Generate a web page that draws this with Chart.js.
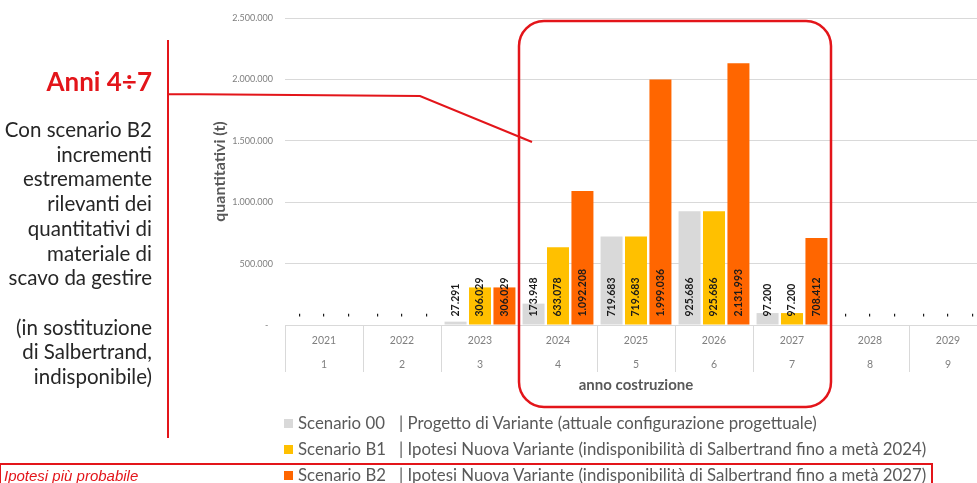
<!DOCTYPE html>
<html>
<head>
<meta charset="utf-8">
<script src="https://cdn.jsdelivr.net/npm/chart.js@4.4.1/dist/chart.umd.min.js"></script>
<style>
  html, body { margin: 0; padding: 0; background: #fff; overflow: hidden; }
  body { width: 977px; height: 483px; position: relative; font-family: Lato, "Open Sans", sans-serif; }
  #wrap { position: absolute; left: 0; top: 0; width: 1000px; height: 483px; }
  .side { position: absolute; right: 825px; text-align: right; color: #262626; white-space: nowrap; }
  #anni { top: 66px; font-size: 26px; line-height: 1.2; font-weight: bold; color: #e3151a; }
  #corpo { top: 117px; font-size: 20.5px; line-height: 24.7px; }
  #prob { position: absolute; left: 4px; top: 467px; font-family: "Liberation Sans", Arial, sans-serif; font-style: italic; font-size: 15px; color: #e3151a; }
  #legenda { position: absolute; left: 284px; top: 410px; font-size: 16.8px; color: #595959; }
  .riga { height: 26px; line-height: 26px; white-space: nowrap; }
  .quad { display: inline-block; width: 9px; height: 9px; margin-right: 5px; vertical-align: 1px; }
  .nome { display: inline-block; width: 101px; }
</style>
</head>
<body>
<div id="wrap"><canvas id="grafico"></canvas></div>
<div class="side" id="anni">Anni 4÷7</div>
<div class="side" id="corpo">Con scenario B2<br>incrementi<br>estremamente<br>rilevanti dei<br>quantitativi di<br>materiale di<br>scavo da gestire<br><br>(in sostituzione<br>di Salbertrand,<br>indisponibile)</div>
<div id="prob">Ipotesi più probabile</div>
<div id="legenda"></div>
<script>
var anni = ['2021', '2022', '2023', '2024', '2025', '2026', '2027', '2028', '2029'];
var numeri = ['1', '2', '3', '4', '5', '6', '7', '8', '9'];
var scenario00 = [0, 0, 27291, 173948, 719683, 925686, 97200, 0, 0];
var scenarioB1 = [0, 0, 306029, 633078, 719683, 925686, 97200, 0, 0];
var scenarioB2 = [0, 0, 306029, 1092208, 1999036, 2131993, 708412, 0, 0];
var nomi = ['Scenario 00', 'Scenario B1', 'Scenario B2'];
var descrizioni = [
  '| Progetto di Variante (attuale configurazione progettuale)',
  '| Ipotesi Nuova Variante (indisponibilità di Salbertrand fino a metà 2024)',
  '| Ipotesi Nuova Variante (indisponibilità di Salbertrand fino a metà 2027)'
];
var colori = ['#d9d9d9', '#ffc000', '#ff6600'];
var rosso = '#e3151a';

function puntini(v) {
  if (v === 0) return '-';
  return String(v).replace(/\B(?=(\d{3})+(?!\d))/g, '.');
}

// legenda html
var leg = document.getElementById('legenda');
nomi.forEach(function (n, i) {
  leg.innerHTML += '<div class="riga"><span class="quad" style="background:' + colori[i] + '"></span>' +
    '<span class="nome">' + n + '</span>' + descrizioni[i] + '</div>';
});

// etichette ruotate sulle barre
const etichette = {
  id: 'etichette',
  afterDatasetsDraw(chart) {
    const ctx = chart.ctx;
    ctx.save();
    ctx.font = 'bold 10.5px Lato';
    ctx.fillStyle = '#1a1a1a';
    chart.data.datasets.forEach(function (ds, i) {
      chart.getDatasetMeta(i).data.forEach(function (bar, j) {
        ctx.save();
        ctx.translate(bar.x, bar.base - 8);
        ctx.rotate(-Math.PI / 2);
        ctx.textAlign = 'left';
        ctx.textBaseline = 'middle';
        ctx.fillText(puntini(ds.data[j]), 0, 0);
        ctx.restore();
      });
    });
    ctx.restore();
  }
};

// separatori sotto l'asse x e riquadri rossi
const contorno = {
  id: 'contorno',
  afterDraw(chart) {
    const ctx = chart.ctx;
    const xs = chart.scales.x;
    const area = chart.chartArea;
    const passo = (area.right - area.left) / anni.length;
    ctx.save();
    ctx.strokeStyle = '#d9d9d9';
    ctx.lineWidth = 1;
    for (let i = 0; i <= anni.length; i++) {
      const x = Math.round(area.left + i * passo) + 0.5;
      ctx.beginPath();
      ctx.moveTo(x, area.bottom);
      ctx.lineTo(x, area.bottom + 47);
      ctx.stroke();
    }
    // riquadro anni 4-7
    const x0 = xs.getPixelForValue(3) - passo / 2;
    const x1 = xs.getPixelForValue(6) + passo / 2;
    ctx.strokeStyle = rosso;
    ctx.lineWidth = 2.5;
    ctx.beginPath();
    ctx.roundRect(x0, 21, x1 - x0, 386, 25);
    ctx.stroke();
    // linee di richiamo
    ctx.lineWidth = 2;
    ctx.beginPath();
    ctx.moveTo(168, 40);
    ctx.lineTo(168, 438);
    ctx.moveTo(168, 94);
    ctx.lineTo(420, 96);
    ctx.lineTo(532, 142);
    ctx.stroke();
    ctx.beginPath();
    ctx.rect(0, 464, 932, 40);
    ctx.stroke();
    ctx.restore();
  }
};

new Chart(document.getElementById('grafico'), {
  type: 'bar',
  data: {
    labels: anni.map(function (a, i) { return [a, numeri[i]]; }),
    datasets: nomi.map(function (n, i) {
      return {
        label: n,
        data: [scenario00, scenarioB1, scenarioB2][i],
        backgroundColor: colori[i],
        categoryPercentage: 0.94,
        barPercentage: 0.9
      };
    })
  },
  options: {
    responsive: true,
    maintainAspectRatio: false,
    animation: false,
    layout: { padding: { left: 200, right: 13, top: 18, bottom: 88 } },
    plugins: { legend: { display: false }, tooltip: { enabled: false } },
    scales: {
      x: {
        grid: { display: false, drawTicks: false },
        border: { color: '#d9d9d9' },
        ticks: { color: '#7f7f7f', font: { family: 'Lato', size: 10.5, lineHeight: 2.2857 }, padding: 4, maxRotation: 0 },
        title: { display: true, text: 'anno costruzione', color: '#595959', font: { family: 'Lato', size: 15, weight: 'bold' }, padding: { top: 0, bottom: 1 } },
        afterFit: function (s) { s.height = 70; }
      },
      y: {
        min: 0, max: 2500000,
        ticks: { stepSize: 500000, color: '#7f7f7f', font: { family: 'Lato', size: 9 }, padding: 12,
          callback: function (v) { return v === 0 ? '-  ' : puntini(v); } },
        grid: { color: '#d9d9d9', drawTicks: false },
        border: { display: false },
        title: { display: true, text: 'quantitativi (t)', color: '#595959', font: { family: 'Lato', size: 16, weight: 'bold' }, padding: { top: 10, bottom: 0 } },
        afterFit: function (s) { s.width = 85; }
      }
    }
  },
  plugins: [etichette, contorno]
});
</script>
</body>
</html>
